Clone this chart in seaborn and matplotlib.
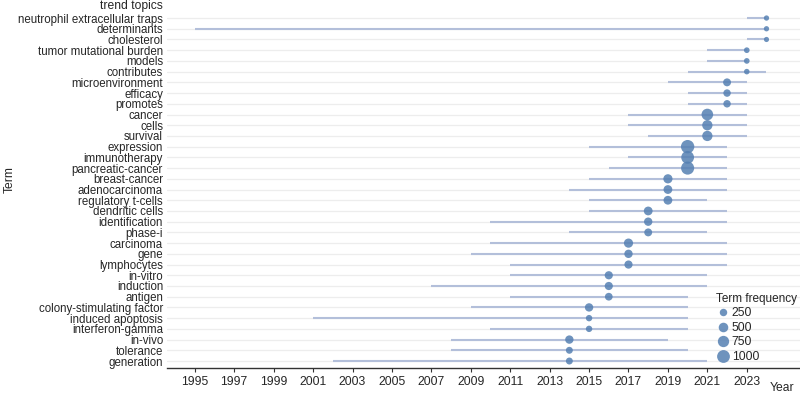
import numpy as np
import pandas as pd
import matplotlib
matplotlib.use("Agg")
import matplotlib.pyplot as plt
import seaborn as sns
from matplotlib.lines import Line2D

# data (top row first)
terms = ["neutrophil extracellular traps", "determinants", "cholesterol",
         "tumor mutational burden", "models", "contributes", "microenvironment",
         "efficacy", "promotes", "cancer", "cells", "survival", "expression",
         "immunotherapy", "pancreatic-cancer", "breast-cancer", "adenocarcinoma",
         "regulatory t-cells", "dendritic cells", "identification", "phase-i",
         "carcinoma", "gene", "lymphocytes", "in-vitro", "induction", "antigen",
         "colony-stimulating factor", "induced apoptosis", "interferon-gamma",
         "in-vivo", "tolerance", "generation"]
year_q1 = [2023, 1995, 2023, 2021, 2021, 2020, 2019, 2020, 2020, 2017, 2017, 2018,
           2015, 2017, 2016, 2015, 2014, 2015, 2015, 2010, 2014, 2010, 2009, 2011,
           2011, 2007, 2011, 2009, 2001, 2010, 2008, 2008, 2002]
year_med = [2024, 2024, 2024, 2023, 2023, 2023, 2022, 2022, 2022, 2021, 2021, 2021,
            2020, 2020, 2020, 2019, 2019, 2019, 2018, 2018, 2018, 2017, 2017, 2017,
            2016, 2016, 2016, 2015, 2015, 2015, 2014, 2014, 2014]
year_q3 = [2024, 2024, 2024, 2023, 2023, 2024, 2023, 2023, 2023, 2023, 2023, 2023,
           2022, 2022, 2022, 2022, 2022, 2021, 2022, 2022, 2021, 2022, 2022, 2022,
           2021, 2021, 2020, 2020, 2020, 2020, 2019, 2020, 2021]
freq = [60, 60, 50, 90, 90, 80, 300, 250, 250, 800, 600, 600, 1100, 1000, 1050,
        450, 400, 400, 400, 350, 300, 450, 350, 330, 330, 330, 280, 350, 150, 150,
        350, 200, 200]
legend_breaks = [250, 500, 750, 1000]
x_ticks = list(range(1995, 2024, 2))

df = pd.DataFrame({"term": terms, "q1": year_q1, "med": year_med,
                   "q3": year_q3, "freq": freq})
df["row"] = np.arange(len(df))

line_col = "#B3BFDA"
dot_col = "#5580B2"
size_norm = (0, 1200)
size_rng = (10, 100)


def area(f):
    return size_rng[0] + (f - size_norm[0]) / (size_norm[1] - size_norm[0]) * (size_rng[1] - size_rng[0])


sns.set_style("white")
plt.rcParams["font.family"] = ["Liberation Sans", "DejaVu Sans"]

fig = plt.figure(figsize=(8, 3.95), dpi=100)
ax = fig.add_axes([0.209, 0.0684, 0.791, 0.9022])

for r in df["row"]:
    ax.axhline(r, color="#EDEDED", lw=0.9, zorder=0)
ax.hlines(df["row"], df["q1"], df["q3"], color=line_col, lw=1.5, zorder=1)
sns.scatterplot(data=df, x="med", y="row", size="freq", sizes=size_rng,
                size_norm=size_norm, color=dot_col, alpha=0.85, edgecolor="none",
                legend=False, ax=ax, zorder=2)

ax.set_xlim(1993.6, 2025.7)
ax.set_ylim(32.65, -0.6)
ax.set_xticks(x_ticks)
ax.set_yticks(df["row"])
ax.set_yticklabels(terms)
ax.set_xlabel("")
ax.set_ylabel("")
ax.tick_params(axis="y", length=2, width=0.6, color="#555555", labelsize=8.3, pad=1)
ax.tick_params(axis="x", length=3, width=0.8, color="#333333", labelsize=8.7, pad=3,
               bottom=True)
for s in ["top", "right", "left"]:
    ax.spines[s].set_visible(False)
ax.spines["bottom"].set_color("#333333")
ax.spines["bottom"].set_linewidth(1.0)

handles = [Line2D([], [], ls="", marker="o", color=dot_col, alpha=0.85,
                  markeredgewidth=0, markersize=np.sqrt(area(b)))
           for b in legend_breaks]
leg = ax.legend(handles, [str(b) for b in legend_breaks], title="Term frequency",
                loc="lower right", bbox_to_anchor=(1.003, 0.0), frameon=False,
                fontsize=8.7, title_fontsize=8.5, handletextpad=0.1, labelspacing=0.22,
                borderaxespad=0.0, handlelength=1.2)
leg._legend_box.align = "left"

fig.text(0.203, 1 - 6 / 395, "trend topics", ha="right", va="center", fontsize=8.7)
fig.text(0.012, 1 - 180 / 395, "Term", rotation=90, ha="center", va="center", fontsize=8.7)
fig.text(0.978, 1 - 388 / 395, "Year", ha="center", va="center", fontsize=8.7)

fig.savefig("out.png", dpi=100)
